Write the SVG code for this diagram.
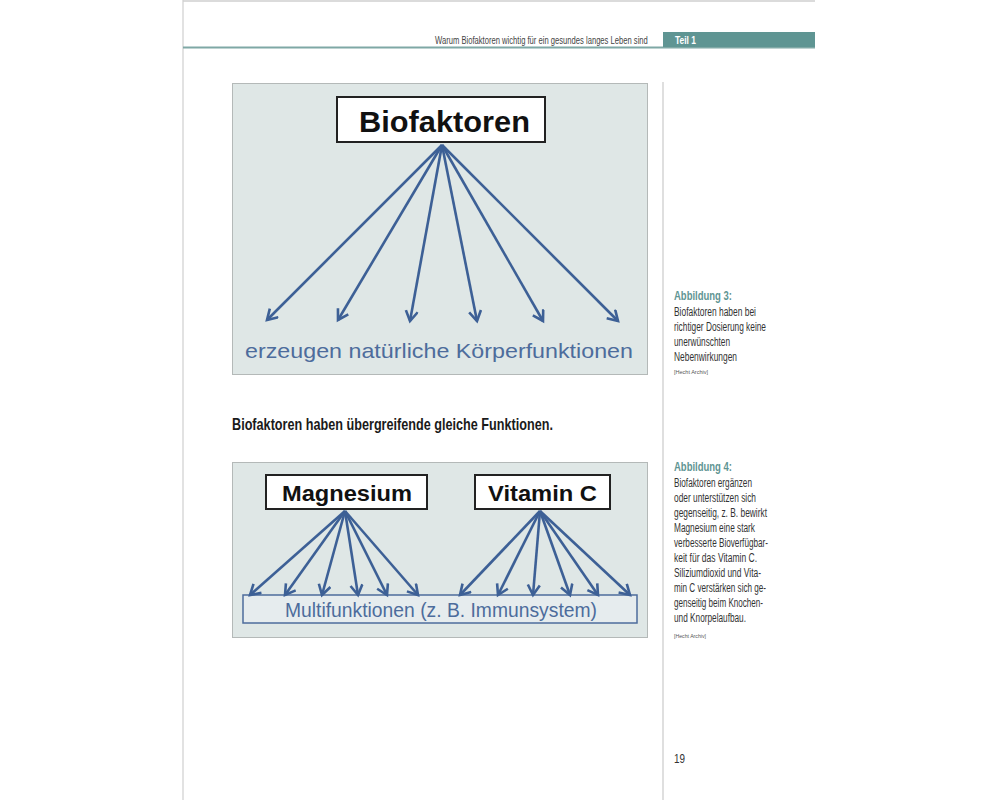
<svg xmlns="http://www.w3.org/2000/svg" width="1000" height="800" viewBox="0 0 1000 800">
<defs>
<marker id="ah" markerUnits="userSpaceOnUse" markerWidth="16" markerHeight="16" refX="11" refY="7" orient="auto">
<path d="M1,1 L11,7 L1,13" fill="none" stroke="#3d6096" stroke-width="2.6" stroke-linejoin="miter"/>
</marker>
<style>
.fig{fill:#dfe7e6;stroke:#b4b9b8;stroke-width:1}
.box{fill:#ffffff;stroke:#222;stroke-width:2}
.big{font-family:"Liberation Sans",Arial,sans-serif;font-weight:bold;fill:#111}
.blue{font-family:"Liberation Sans",Arial,sans-serif;fill:#4d6c9c}
.arr line{stroke:#3d6096;stroke-width:2.6;marker-end:url(#ah)}
.side{font-family:"Liberation Sans",Arial,sans-serif;font-size:12px;fill:#333}
.abb{font-family:"Liberation Sans",Arial,sans-serif;font-size:12.5px;font-weight:bold;fill:#5f9593}
.src{font-family:"Liberation Sans",Arial,sans-serif;font-size:5.5px;fill:#555}
</style>
</defs>
<rect width="1000" height="800" fill="#ffffff"/>
<g id="page">
<line x1="183" y1="0" x2="183" y2="800" stroke="#d8d8d8" stroke-width="1.5"/>
<line x1="183" y1="1" x2="815" y2="1" stroke="#cfcfcf" stroke-width="1.5"/>
<line x1="183" y1="47.5" x2="815" y2="47.5" stroke="#7fa8a5" stroke-width="2"/>
<rect x="663" y="32" width="152" height="15" fill="#5f9593"/>
<text x="675" y="44" font-family="Liberation Sans,Arial,sans-serif" font-size="11.5" font-weight="bold" fill="#ffffff" textLength="21" lengthAdjust="spacingAndGlyphs">Teil 1</text>
<text transform="translate(435,44) scale(0.694,1)" x="0" y="0" font-family="Liberation Sans,Arial,sans-serif" font-size="11" fill="#444">Warum Biofaktoren wichtig für ein gesundes langes Leben sind</text>
<line x1="663" y1="82" x2="663" y2="800" stroke="#d4d4d4" stroke-width="1.5"/>
<text x="674" y="763" font-family="Liberation Sans,Arial,sans-serif" font-size="13" fill="#333" textLength="11" lengthAdjust="spacingAndGlyphs">19</text>
</g>

<g id="figure1">
<rect class="fig" x="232.5" y="83.5" width="415" height="291"/>
</g>
<g id="biofaktoren">
<rect class="box" x="337" y="97" width="208" height="45"/>
<text class="big" x="359" y="132" font-size="30" textLength="171" lengthAdjust="spacingAndGlyphs">Biofaktoren</text>
</g>
<g id="koerperfunktionen">
<text class="blue" x="245" y="358" font-size="21" textLength="388" lengthAdjust="spacingAndGlyphs">erzeugen natürliche Körperfunktionen</text>
</g>
<g id="connectors1" class="arr">
<line x1="442" y1="145" x2="267" y2="320"/>
<line x1="442" y1="145" x2="338" y2="320"/>
<line x1="442" y1="145" x2="410" y2="321"/>
<line x1="442" y1="145" x2="477" y2="321"/>
<line x1="442" y1="145" x2="543" y2="321"/>
<line x1="442" y1="145" x2="618" y2="321"/>
</g>

<text x="232" y="430" font-family="Liberation Sans,Arial,sans-serif" font-size="17" font-weight="bold" fill="#1a1a1a" textLength="321" lengthAdjust="spacingAndGlyphs">Biofaktoren haben übergreifende gleiche Funktionen.</text>

<g id="figure2">
<rect class="fig" x="232.5" y="462.5" width="415" height="175"/>
</g>
<g id="magnesium">
<rect class="box" x="266" y="475" width="161" height="34"/>
<text class="big" x="282" y="501" font-size="22" textLength="130" lengthAdjust="spacingAndGlyphs">Magnesium</text>
</g>
<g id="vitaminc">
<rect class="box" x="475" y="475" width="135" height="34"/>
<text class="big" x="488" y="501" font-size="22" textLength="109" lengthAdjust="spacingAndGlyphs">Vitamin C</text>
</g>
<g id="multifunktionen">
<rect x="243" y="595" width="394" height="28" fill="#e6ecee" stroke="#4d6c9c" stroke-width="1.5"/>
<text class="blue" x="285" y="617" font-size="19.5" textLength="312" lengthAdjust="spacingAndGlyphs">Multifunktionen (z. B. Immunsystem)</text>
</g>
<g id="connectors2" class="arr">
<line x1="345" y1="511" x2="250" y2="595"/>
<line x1="345" y1="511" x2="285" y2="595"/>
<line x1="345" y1="511" x2="322" y2="595"/>
<line x1="345" y1="511" x2="358" y2="595"/>
<line x1="345" y1="511" x2="387" y2="595"/>
<line x1="345" y1="511" x2="418" y2="595"/>
<line x1="540" y1="511" x2="460" y2="595"/>
<line x1="540" y1="511" x2="498" y2="595"/>
<line x1="540" y1="511" x2="533" y2="595"/>
<line x1="540" y1="511" x2="570" y2="595"/>
<line x1="540" y1="511" x2="598" y2="595"/>
<line x1="540" y1="511" x2="630" y2="595"/>
</g>

<g id="caption3">
<text class="abb" x="674" y="300" textLength="58" lengthAdjust="spacingAndGlyphs">Abbildung 3:</text>
<text class="side" x="674" y="316" textLength="82" lengthAdjust="spacingAndGlyphs">Biofaktoren haben bei</text>
<text class="side" x="674" y="331" textLength="92" lengthAdjust="spacingAndGlyphs">richtiger Dosierung keine</text>
<text class="side" x="674" y="346" textLength="56" lengthAdjust="spacingAndGlyphs">unerwünschten</text>
<text class="side" x="674" y="361" textLength="63" lengthAdjust="spacingAndGlyphs">Nebenwirkungen</text>
<text class="src" x="674" y="374" textLength="34" lengthAdjust="spacingAndGlyphs">[Hecht Archiv]</text>
</g>
<g id="caption4">
<text class="abb" x="674" y="471" textLength="58" lengthAdjust="spacingAndGlyphs">Abbildung 4:</text>
<text class="side" x="674" y="487" textLength="78" lengthAdjust="spacingAndGlyphs">Biofaktoren ergänzen</text>
<text class="side" x="674" y="502" textLength="82" lengthAdjust="spacingAndGlyphs">oder unterstützen sich</text>
<text class="side" x="674" y="517" textLength="93" lengthAdjust="spacingAndGlyphs">gegenseitig, z. B. bewirkt</text>
<text class="side" x="674" y="532" textLength="81" lengthAdjust="spacingAndGlyphs">Magnesium eine stark</text>
<text class="side" x="674" y="547" textLength="94" lengthAdjust="spacingAndGlyphs">verbesserte Bioverfügbar-</text>
<text class="side" x="674" y="562" textLength="83" lengthAdjust="spacingAndGlyphs">keit für das Vitamin C.</text>
<text class="side" x="674" y="577" textLength="87" lengthAdjust="spacingAndGlyphs">Siliziumdioxid und Vita-</text>
<text class="side" x="674" y="592" textLength="92" lengthAdjust="spacingAndGlyphs">min C verstärken sich ge-</text>
<text class="side" x="674" y="607" textLength="89" lengthAdjust="spacingAndGlyphs">genseitig beim Knochen-</text>
<text class="side" x="674" y="622" textLength="72" lengthAdjust="spacingAndGlyphs">und Knorpelaufbau.</text>
<text class="src" x="674" y="638" textLength="32" lengthAdjust="spacingAndGlyphs">[Hecht Archiv]</text>
</g>
</svg>
